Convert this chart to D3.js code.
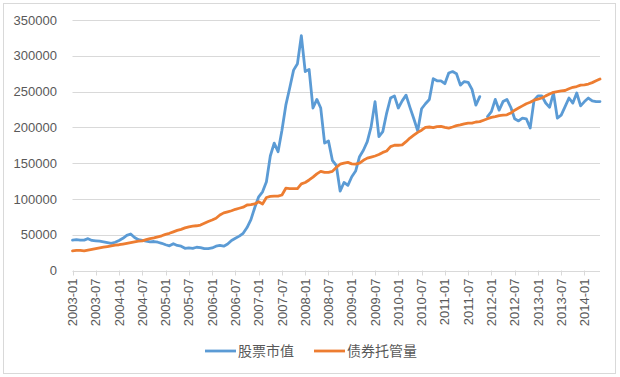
<!DOCTYPE html>
<head>
  <meta charset="utf-8">
  <script src="https://cdn.jsdelivr.net/npm/d3@7/dist/d3.min.js"></script>
  <style>
    body {
      margin: 0;
      background: #fff;
      font-family: "Liberation Sans", Arial, sans-serif;
    }
    svg { display: block; }
    .grid line { stroke: #d9d9d9; stroke-width: 1; }
    .axis text { fill: #595959; font-size: 13px; }
    .legend text { fill: #595959; font-size: 14px; font-family: "Noto Sans CJK SC", sans-serif; }
  </style>
</head>

<body>
  <div id="chart"></div>
  <script>

  // months 2003-01 .. 2014-05
  var months = d3.timeMonths(new Date(2003, 0, 1), new Date(2014, 5, 1)).map(d3.timeFormat("%Y-%m"));

  var tickLabels = ["2003-01","2003-07","2004-01","2004-07","2005-01","2005-07","2006-01","2006-07",
    "2007-01","2007-07","2008-01","2008-07","2009-01","2009-07","2010-01","2010-07","2011-01","2011-07",
    "2012-01","2012-07","2013-01","2013-07","2014-01"];

  var yTicks = [0, 50000, 100000, 150000, 200000, 250000, 300000, 350000];

  var seriesNames = ["股票市值", "债券托管量"];

  // 股票市值
  var stock = [
    42500, 43000, 42500, 42500, 44500, 42000, 41500, 41000, 40000, 39000, 38000, 39500,
    42000, 45000, 49000, 51000, 46000, 43000, 42000, 41000, 40000, 40500, 39500, 38000,
    36000, 34500, 37500, 35000, 34000, 31000, 31500, 31000, 32500, 32000, 30500, 30500,
    31500, 34000, 35000, 34000, 37000, 42000, 45000, 48000, 52000, 60000, 71000, 88000,
    103000, 110000, 124000, 160000, 178000, 166000, 196000, 231000, 255000, 280000, 289000, 328000,
    278000, 281000, 227000, 239000, 227000, 178000, 181000, 154000, 147000, 111000, 123000, 119000,
    131000, 139000, 159000, 168000, 180000, 201000, 236000, 187000, 194000, 220000, 241000, 244000,
    227000, 237000, 245000, 228000, 212000, 195000, 226000, 233000, 239000, 268000, 265000, 265000,
    261000, 276000, 278000, 275000, 259000, 264000, 263000, 253000, 231000, 243000, null, 215000,
    222000, 239000, 224000, 236000, 239000, 228000, 212000, 209000, 213000, 212000, 199000, 238000,
    244000, 244000, 234000, 228000, 248000, 213000, 217000, 229000, 241000, 234000, 248000, 230000,
    236000, 241000, 237000, 236000, 236000
  ];

  // 债券托管量
  var bonds = [
    27500, 28000, 28000, 27500, 28500, 29500, 30500, 31500, 32500, 33500, 34500, 35500,
    36000, 37000, 38000, 39000, 40000, 41000, 41500, 43000, 44500, 45500, 47000, 48500,
    50500, 52000, 54000, 56000, 57500, 59500, 61000, 62000, 62500, 63500, 66000, 68500,
    70500, 73000, 77500, 80500, 82000, 83500, 85500, 87000, 88500, 91500, 92000, 93000,
    96000, 93000, 102000, 103500, 104000, 104000, 105500, 115000, 114500, 114500, 114500, 121000,
    123000, 126500, 130500, 135000, 138500, 137000, 137000, 138500, 144000, 148500, 150000, 151000,
    149000, 148500, 150000, 154000, 157000, 158500, 160000, 162000, 165000, 167000, 173000, 175000,
    175000, 175500, 180000, 185000, 189000, 193000, 196000, 200000, 200500, 199500, 201000, 201500,
    200000, 199000, 200500, 202500, 203500, 205000, 206000, 206000, 207500, 208000, 210000, 212000,
    214000, 215000, 216500, 217000, 217500, 220000, 224000, 227000, 230000, 233000, 235000, 238000,
    239500, 241000, 244000, 246500, 249000, 250000, 251000, 251500, 254000, 256000, 257000, 259000,
    259500, 260500, 262500, 265000, 267500
  ];

  var colors = ["#5b9bd5", "#ed7d31"];

  var width = 620, height = 377
    , plot = {left: 72.5, right: 600, top: 20, bottom: 270.5}

  var svg = d3.select("#chart").append("svg")
      .attr("width", width)
      .attr("height", height)

  svg.append("rect")
      .attr("x", 3.5).attr("y", 3.5)
      .attr("width", 612).attr("height", 370)
      .style("fill", "#fff")
      .style("stroke", "#d9d9d9")

  var x = d3.scalePoint()
      .domain(months)
      .range([plot.left, plot.right])

  var y = d3.scaleLinear()
      .domain([0, 350000])
      .range([plot.bottom, plot.top])

  // gridlines
  svg.append("g")
      .attr("class", "grid")
    .selectAll("line")
      .data(yTicks)
    .enter().append("line")
      .attr("x1", plot.left)
      .attr("x2", plot.right)
      .attr("y1", function(d) { return Math.round(y(d)) + 0.5 })
      .attr("y2", function(d) { return Math.round(y(d)) + 0.5 })

  // y axis labels
  svg.append("g")
      .attr("class", "axis")
    .selectAll("text")
      .data(yTicks)
    .enter().append("text")
      .attr("x", 57)
      .attr("y", function(d) { return y(d) })
      .attr("dy", "0.36em")
      .style("text-anchor", "end")
      .text(function(d) { return d })

  // x axis ticks + labels
  var xAxis = svg.append("g").attr("class", "axis")

  xAxis.selectAll("line")
      .data(tickLabels)
    .enter().append("line")
      .attr("x1", function(d) { return Math.round(x(d)) + 0.5 })
      .attr("x2", function(d) { return Math.round(x(d)) + 0.5 })
      .attr("y1", plot.bottom)
      .attr("y2", plot.bottom + 5)
      .style("stroke", "#d9d9d9")

  xAxis.selectAll("text")
      .data(tickLabels)
    .enter().append("text")
      .attr("transform", function(d) { return "translate(" + x(d) + "," + (plot.bottom + 8) + ") rotate(-90)" })
      .attr("dy", "0.35em")
      .style("text-anchor", "end")
      .text(function(d) { return d })

  // lines
  var line = d3.line()
      .defined(function(d) { return d.v != null })
      .x(function(d) { return x(d.m) })
      .y(function(d) { return y(d.v) })

  ;[stock, bonds].forEach(function(values, k) {
    svg.append("path")
        .datum(values.map(function(v, i) { return {m: months[i], v: v} }))
        .attr("d", line)
        .style("fill", "none")
        .style("stroke", colors[k])
        .style("stroke-width", 2.8)
        .style("stroke-linejoin", "round")
        .style("stroke-linecap", "round")
  })

  // legend
  var legend = svg.append("g").attr("class", "legend")
  var legendX = [205, 314]

  seriesNames.forEach(function(name, k) {
    legend.append("line")
        .attr("x1", legendX[k]).attr("x2", legendX[k] + 31)
        .attr("y1", 351).attr("y2", 351)
        .style("stroke", colors[k])
        .style("stroke-width", 2.8)
    legend.append("text")
        .attr("x", legendX[k] + 33)
        .attr("y", 351)
        .attr("dy", "0.35em")
        .text(name)
  })

  </script>
</body>
